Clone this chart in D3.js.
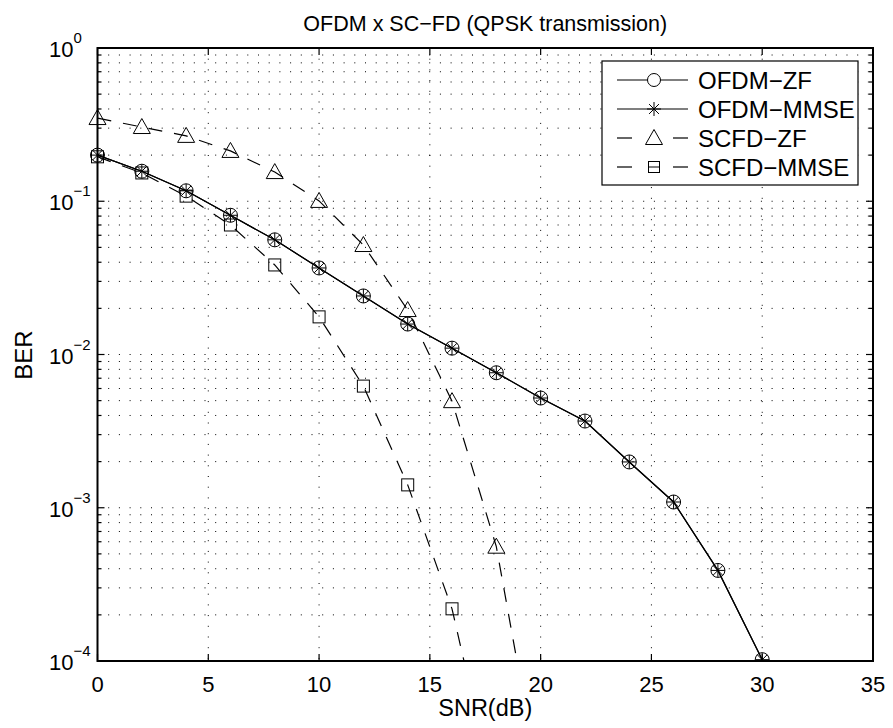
<!doctype html>
<html>
<head>
<meta charset="utf-8">
<title>OFDM x SC-FD (QPSK transmission)</title>
<script src="https://d3js.org/d3.v7.min.js"></script>
<style>
  body { margin: 0; background: #fff; }
  text { font-family: "Liberation Sans", Arial, Helvetica, sans-serif; fill: #000; }
</style>
</head>
<body>
<div id="chart"></div>
<script>
// SNR points (dB)
var snr = [0, 2, 4, 6, 8, 10, 12, 14, 16, 18, 20, 22, 24, 26, 28, 30];

// BER
var ofdmZF   = [0.200, 0.157, 0.117, 0.081, 0.056, 0.0367, 0.0241, 0.0158, 0.0110, 0.0076, 0.0052, 0.00368, 0.00199, 0.00109, 0.00039, 0.000102];
var ofdmMMSE = [0.200, 0.157, 0.117, 0.081, 0.056, 0.0367, 0.0241, 0.0158, 0.0110, 0.0076, 0.0052, 0.00368, 0.00199, 0.00109, 0.00039, 0.000102];
var scfdZF   = [0.349, 0.305, 0.267, 0.213, 0.155, 0.1005, 0.0518, 0.0195, 0.00496, 0.000557, 0.000014];
var scfdMMSE = [0.195, 0.153, 0.108, 0.070, 0.0384, 0.0176, 0.00622, 0.00141, 0.000219, 0.000012];

var seriesNames = ["OFDM\u2212ZF", "OFDM\u2212MMSE", "SCFD\u2212ZF", "SCFD\u2212MMSE"];
var xTicks = [0, 5, 10, 15, 20, 25, 30, 35];
var yDecades = [-4, -3, -2, -1, 0];

var W = 893, H = 728;
var margin = {top: 48, right: 20, bottom: 67, left: 97.5};
var width = 873 - margin.left, height = 661 - margin.top;

var svg = d3.select("#chart").append("svg")
  .attr("width", W).attr("height", H);
var g = svg.append("g")
  .attr("transform", "translate(" + margin.left + "," + margin.top + ")");

var x = d3.scaleLinear().domain([0, 35]).range([0, width]);
var y = d3.scaleLog().domain([1e-4, 1]).range([height, 0]);

// minor log positions
var minorVals = [];
yDecades.slice(0, 4).forEach(function(p) {
  for (var k = 2; k <= 9; k++) minorVals.push(k * Math.pow(10, p));
});
var majorVals = yDecades.map(function(p) { return Math.pow(10, p); });

// grid (dotted)
var grid = g.append("g").attr("stroke", "#000").attr("stroke-width", 1)
  .attr("stroke-dasharray", "1,9.7");
xTicks.slice(1, -1).forEach(function(t) {
  grid.append("line").attr("x1", x(t)).attr("x2", x(t)).attr("y1", 0).attr("y2", height);
});
majorVals.concat(minorVals).forEach(function(v) {
  if (v >= 1 || v <= 1e-4) return;
  grid.append("line").attr("x1", 0).attr("x2", width).attr("y1", y(v)).attr("y2", y(v));
});

// clip for data
g.append("clipPath").attr("id", "clip").append("rect")
  .attr("x", -10).attr("y", -10).attr("width", width + 20).attr("height", height + 10);

var line = d3.line().x(function(d) { return x(d[0]); }).y(function(d) { return y(d[1]); });

function pairs(vals) { return vals.map(function(v, i) { return [snr[i], v]; }); }

var series = [
  {name: seriesNames[0], vals: ofdmZF, dash: null, marker: "circle"},
  {name: seriesNames[1], vals: ofdmMMSE, dash: null, marker: "star"},
  {name: seriesNames[2], vals: scfdZF, dash: "14,12", marker: "triangle"},
  {name: seriesNames[3], vals: scfdMMSE, dash: "14,12", marker: "square"}
];

function drawMarker(sel, type, cx, cy) {
  var m = sel.append("g").attr("transform", "translate(" + cx + "," + cy + ")")
    .attr("fill", "none").attr("stroke", "#000").attr("stroke-width", 1);
  if (type === "circle") {
    m.append("circle").attr("r", 7);
  } else if (type === "star") {
    var r = 7, d = r * Math.SQRT1_2;
    m.append("path").attr("d", "M" + (-r) + ",0H" + r + "M0," + (-r) + "V" + r +
      "M" + (-d) + "," + (-d) + "L" + d + "," + d + "M" + (-d) + "," + d + "L" + d + "," + (-d));
  } else if (type === "triangle") {
    m.append("path").attr("d", "M0,-8.5L8.5,6.5L-8.5,6.5Z");
  } else if (type === "square") {
    m.append("rect").attr("x", -6).attr("y", -6).attr("width", 12).attr("height", 12);
  }
}

var data = g.append("g").attr("clip-path", "url(#clip)");
series.forEach(function(s) {
  var pts = pairs(s.vals);
  data.append("path").datum(pts)
    .attr("d", line).attr("fill", "none").attr("stroke", "#000")
    .attr("stroke-width", 1.2).attr("stroke-dasharray", s.dash);
  pts.forEach(function(p) {
    if (p[1] < 1e-4 * 0.99) return;
    drawMarker(data, s.marker, x(p[0]), y(p[1]));
  });
});

// axes box
g.append("rect").attr("width", width).attr("height", height)
  .attr("fill", "none").attr("stroke", "#000").attr("stroke-width", 2);

var ticks = g.append("g").attr("stroke", "#000").attr("stroke-width", 1.2);
xTicks.forEach(function(t) {
  ticks.append("line").attr("x1", x(t)).attr("x2", x(t)).attr("y1", height).attr("y2", height - 7);
  ticks.append("line").attr("x1", x(t)).attr("x2", x(t)).attr("y1", 0).attr("y2", 7);
});
majorVals.forEach(function(v) {
  ticks.append("line").attr("x1", 0).attr("x2", 7).attr("y1", y(v)).attr("y2", y(v));
  ticks.append("line").attr("x1", width).attr("x2", width - 7).attr("y1", y(v)).attr("y2", y(v));
});
minorVals.forEach(function(v) {
  ticks.append("line").attr("x1", 0).attr("x2", 4).attr("y1", y(v)).attr("y2", y(v));
  ticks.append("line").attr("x1", width).attr("x2", width - 4).attr("y1", y(v)).attr("y2", y(v));
});

// x tick labels
xTicks.forEach(function(t) {
  g.append("text").attr("x", x(t)).attr("y", height + 31)
    .attr("text-anchor", "middle").style("font-size", "22px").text(t);
});

// y tick labels 10^p
yDecades.forEach(function(p) {
  g.append("text").attr("x", -24).attr("y", y(Math.pow(10, p)) + 9)
    .attr("text-anchor", "end").style("font-size", "22px").text("10");
  g.append("text").attr("x", -24).attr("y", y(Math.pow(10, p)) - 5)
    .style("font-size", "15px").text(p === 0 ? "0" : "\u2212" + (-p));
});

// title & axis labels
svg.append("text").attr("x", margin.left + width / 2).attr("y", 31)
  .attr("text-anchor", "middle").style("font-size", "21.5px")
  .text("OFDM x SC\u2212FD (QPSK transmission)");
svg.append("text").attr("x", margin.left + width / 2).attr("y", 716)
  .attr("text-anchor", "middle").style("font-size", "23.5px").text("SNR(dB)");
svg.append("text").attr("transform", "translate(31.5,355) rotate(-90)")
  .attr("text-anchor", "middle").style("font-size", "24px").text("BER");

// legend
var lg = svg.append("g");
lg.append("rect").attr("x", 602).attr("y", 61).attr("width", 256).attr("height", 124)
  .attr("fill", "#fff").attr("stroke", "#000").attr("stroke-width", 1.2);
series.forEach(function(s, i) {
  var ly = 80 + i * 29;
  if (s.dash) {
    lg.append("line").attr("x1", 617).attr("x2", 632).attr("y1", ly).attr("y2", ly)
      .attr("stroke", "#000").attr("stroke-width", 1.2);
    lg.append("line").attr("x1", 673).attr("x2", 688).attr("y1", ly).attr("y2", ly)
      .attr("stroke", "#000").attr("stroke-width", 1.2);
  } else {
    lg.append("line").attr("x1", 617).attr("x2", 688).attr("y1", ly).attr("y2", ly)
      .attr("stroke", "#000").attr("stroke-width", 1.2);
  }
  if (s.marker === "circle") {
    lg.append("circle").attr("cx", 654).attr("cy", ly).attr("r", 6.5)
      .attr("fill", "#fff").attr("stroke", "#000");
  } else if (s.marker === "square") {
    lg.append("rect").attr("x", 648.5).attr("y", ly - 5.5).attr("width", 11).attr("height", 11)
      .attr("fill", "#fff").attr("stroke", "#000");
    lg.append("line").attr("x1", 648.5).attr("x2", 659.5).attr("y1", ly).attr("y2", ly)
      .attr("stroke", "#000");
  } else {
    drawMarker(lg, s.marker, 654, ly);
  }
  lg.append("text").attr("x", 698).attr("y", ly + 8.5).style("font-size", "24px").text(s.name);
});
</script>
</body>
</html>
